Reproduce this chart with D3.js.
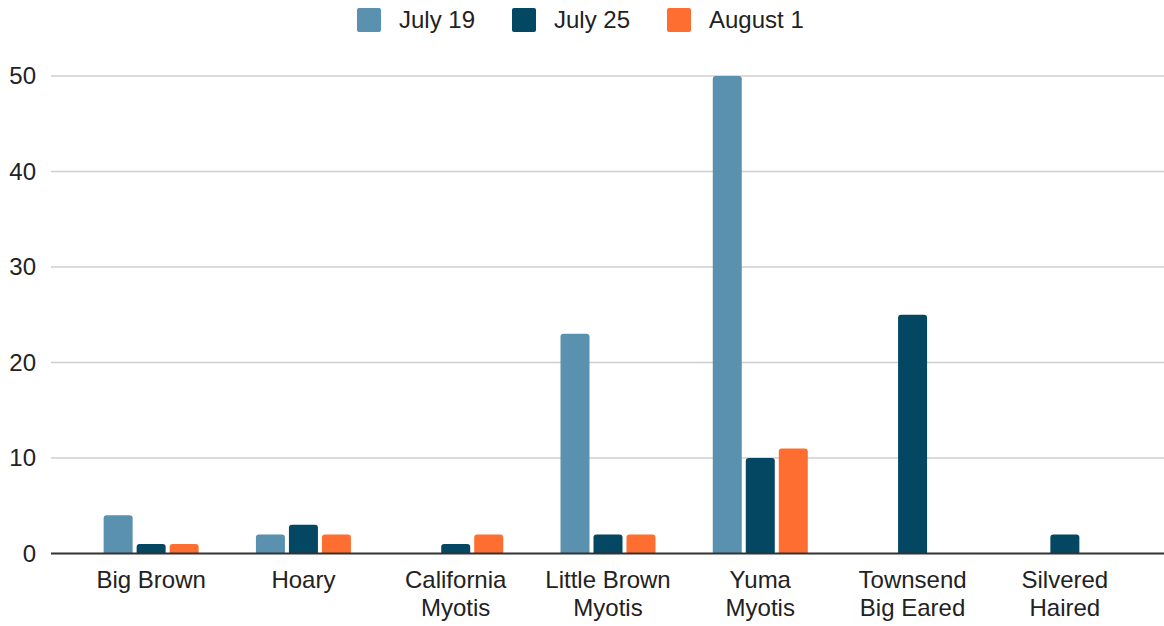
<!DOCTYPE html>
<meta charset="utf-8">
<style>
body { margin: 0; background: #fff; }
text { font-family: "Liberation Sans", Arial, sans-serif; fill: #222; }
</style>
<body>
<div id="chart"></div>
<script src="https://d3js.org/d3.v7.min.js"></script>
<script>
// bat counts per species, one array per survey date
var species = ["Big Brown", "Hoary", "California Myotis", "Little Brown Myotis", "Yuma Myotis", "Townsend Big Eared", "Silvered Haired"];
var seriesNames = ["July 19", "July 25", "August 1"];
var july19 = [4, 2, 0, 23, 50, 0, 0];
var july25 = [1, 3, 1, 2, 10, 25, 2];
var august1 = [1, 2, 2, 2, 11, 0, 0];
var yTicks = [0, 10, 20, 30, 40, 50];
var colors = ["#5991af", "#034763", "#ff6e31"];

var width = 1164, height = 626;
var values = [july19, july25, august1];

var svg = d3.select("#chart").append("svg")
    .attr("width", width)
    .attr("height", height);

// scales
var x0 = d3.scaleBand().domain(species).range([75, 1141]);
var x1 = d3.scaleBand().domain(seriesNames).range([0, 95]).paddingInner(0.121);
var y = d3.scaleLinear().domain([0, 50]).range([553.5, 76]);

// gridlines
svg.append("g")
  .selectAll("line")
  .data(yTicks.slice(1))
  .enter().append("line")
    .attr("x1", 51).attr("x2", width)
    .attr("y1", function(d) { return y(d); })
    .attr("y2", function(d) { return y(d); })
    .attr("stroke", "#cfcfcf")
    .attr("stroke-width", 1.6);

// y labels
svg.append("g")
  .selectAll("text")
  .data(yTicks)
  .enter().append("text")
    .attr("x", 36)
    .attr("y", function(d) { return y(d); })
    .attr("dy", "0.35em")
    .attr("text-anchor", "end")
    .style("font-size", "24px")
    .text(function(d) { return d; });

// bars with rounded top corners
function barPath(x, w, top, bottom) {
  var r = Math.min(3, (bottom - top) / 2);
  return "M" + x + "," + bottom +
    "V" + (top + r) +
    "Q" + x + "," + top + " " + (x + r) + "," + top +
    "H" + (x + w - r) +
    "Q" + (x + w) + "," + top + " " + (x + w) + "," + (top + r) +
    "V" + bottom + "Z";
}

var groups = svg.append("g")
  .selectAll("g")
  .data(species)
  .enter().append("g")
    .attr("transform", function(d) {
      return "translate(" + (x0(d) + (x0.bandwidth() - 95) / 2) + ",0)";
    });

groups.selectAll("path")
  .data(function(d, i) {
    return seriesNames.map(function(s, j) { return {series: s, value: values[j][i], color: colors[j]}; });
  })
  .enter().filter(function(d) { return d.value > 0; })
  .append("path")
    .attr("d", function(d) { return barPath(x1(d.series), x1.bandwidth(), y(d.value), y(0)); })
    .attr("fill", function(d) { return d.color; });

// baseline
svg.append("line")
  .attr("x1", 51).attr("x2", width)
  .attr("y1", y(0)).attr("y2", y(0))
  .attr("stroke", "#333")
  .attr("stroke-width", 2);

// category labels, wrapped on two lines
var labelLines = {
  "Big Brown": ["Big Brown"],
  "Hoary": ["Hoary"],
  "California Myotis": ["California", "Myotis"],
  "Little Brown Myotis": ["Little Brown", "Myotis"],
  "Yuma Myotis": ["Yuma", "Myotis"],
  "Townsend Big Eared": ["Townsend", "Big Eared"],
  "Silvered Haired": ["Silvered", "Haired"]
};
svg.append("g")
  .selectAll("text")
  .data(species)
  .enter().append("text")
    .attr("text-anchor", "middle")
    .style("font-size", "24px")
    .each(function(d) {
      var t = d3.select(this);
      labelLines[d].forEach(function(line, k) {
        t.append("tspan")
          .attr("x", x0(d) + x0.bandwidth() / 2)
          .attr("y", 588 + k * 28)
          .text(line);
      });
    });

// legend
var legendX = [357, 512, 667];
var legend = svg.append("g")
  .selectAll("g")
  .data(seriesNames)
  .enter().append("g")
    .attr("transform", function(d, i) { return "translate(" + legendX[i] + ",8)"; });
legend.append("rect")
  .attr("width", 24).attr("height", 24)
  .attr("rx", 2)
  .attr("fill", function(d, i) { return colors[i]; });
legend.append("text")
  .attr("x", 42)
  .attr("y", 12)
  .attr("dy", "0.35em")
  .style("font-size", "24px")
  .text(function(d) { return d; });
</script>
</body>
